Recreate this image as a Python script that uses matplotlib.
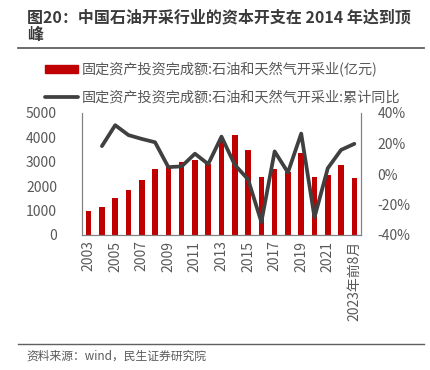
import matplotlib
matplotlib.use("Agg")
import matplotlib.pyplot as plt
from matplotlib.patches import Patch
from matplotlib.lines import Line2D
from matplotlib.ticker import FuncFormatter

plt.rcParams['font.family'] = ['Noto Sans CJK SC', 'DejaVu Sans']

# data
years = ['2003', '2004', '2005', '2006', '2007', '2008', '2009', '2010', '2011', '2012',
         '2013', '2014', '2015', '2016', '2017', '2018', '2019', '2020', '2021', '2022',
         '2023年前8月']
invest = [980, 1150, 1500, 1860, 2260, 2710, 2800, 2990, 3070, 2930,
          3840, 4080, 3480, 2380, 2700, 2580, 3370, 2370, 2470, 2850, 2340]
yoy_years = list(range(1, 21))
yoy = [18.3, 32.0, 25.5, 23.0, 20.8, 4.5, 5.0, 13.3, 6.5, 24.5,
       6.0, -3.5, -31.5, 14.8, 1.0, 26.5, -28.5, 3.8, 15.8, 19.8]

bar_label = '固定资产投资完成额:石油和天然气开采业(亿元)'
line_label = '固定资产投资完成额:石油和天然气开采业:累计同比'

red = '#C00000'
dark = '#404040'
txt = '#595959'

fig = plt.figure(figsize=(4.3, 3.7), dpi=100)
ax = fig.add_axes([82 / 430, 1 - 235 / 370, (361 - 82) / 430, (235 - 113) / 370])
ax2 = ax.twinx()

x = list(range(len(years)))
ax.bar(x, invest, width=0.42, color=red, zorder=2)
ax2.plot(yoy_years, yoy, color=dark, lw=2.7, solid_capstyle='round',
         solid_joinstyle='round', zorder=3)

ax.set_xlim(-0.5, len(years) - 0.5)
ax.set_ylim(0, 5000)
ax.set_yticks(range(0, 5001, 1000))
ax2.set_ylim(-40, 40)
ax2.set_yticks(range(-40, 41, 20))
ax2.yaxis.set_major_formatter(FuncFormatter(lambda v, p: f'{v:.0f}%'))

ticks = list(range(0, 20, 2)) + [20]
ax.set_xticks(ticks)
ax.set_xticklabels([years[i] for i in ticks], rotation=90)

for a in (ax, ax2):
    for s in a.spines.values():
        s.set_color('#808080')
    a.spines['top'].set_visible(False)
    a.tick_params(length=0, labelsize=10, labelcolor=txt)
ax.tick_params(axis='y', pad=18)
ax2.tick_params(axis='y', pad=12)
ax.tick_params(axis='x', pad=4)

ax.set_zorder(1)
ax2.set_zorder(2)
ax2.patch.set_visible(False)

handles = [Patch(color=red), Line2D([], [], color=dark, lw=2.7, solid_capstyle='round')]
fig.legend(handles, [bar_label, line_label], loc='upper left',
           bbox_to_anchor=(38 / 430, 1 - 55 / 370), frameon=False, borderpad=0,
           handlelength=2.3, handleheight=0.5, handletextpad=0.3, labelspacing=0.95,
           fontsize=10.2, labelcolor=txt)

fig.text(27 / 430, 1 - 17 / 370, '图20：中国石油开采行业的资本开支在 2014 年达到顶',
         fontsize=11.5, fontweight='bold', color='#3a3a3a', va='center')
fig.text(27 / 430, 1 - 35 / 370, '峰', fontsize=11.5, fontweight='bold', color='#3a3a3a', va='center')
fig.add_artist(Line2D([18 / 430, 424 / 430], [1 - 48 / 370] * 2, color='#606060', lw=1.3))
fig.add_artist(Line2D([18 / 430, 424 / 430], [1 - 344 / 370] * 2, color='#606060', lw=1.0))
fig.text(26 / 430, 1 - 356 / 370, '资料来源：wind，民生证券研究院', fontsize=8.5, color=txt, va='center')

fig.savefig('out.png', dpi=100)
